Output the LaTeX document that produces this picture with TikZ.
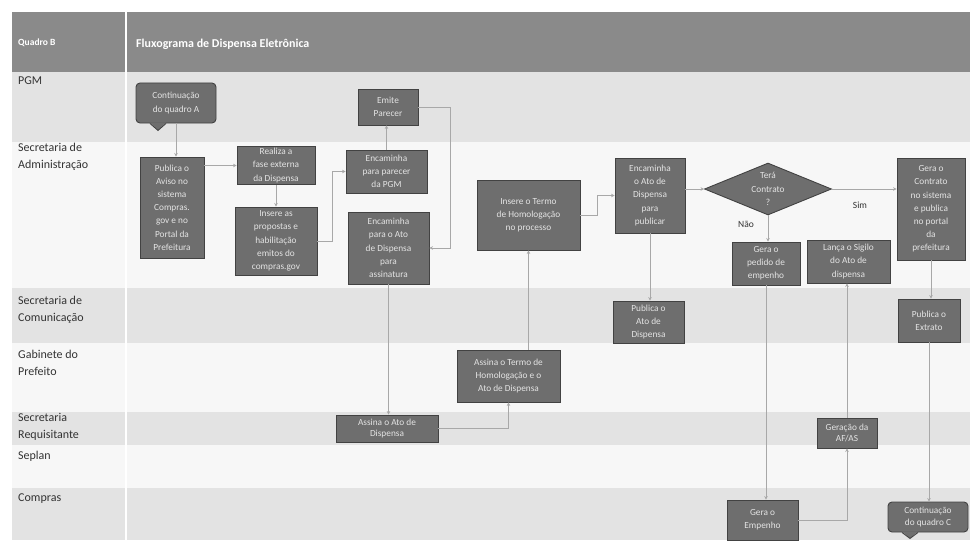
\documentclass[tikz,border=0pt]{standalone}
\usepackage{fontspec}
\setmainfont{Carlito}
\usetikzlibrary{shapes.geometric,arrows.meta,calc}
\definecolor{hdr}{HTML}{8A8A8A}
\definecolor{laneA}{HTML}{E3E3E3}
\definecolor{laneB}{HTML}{F7F7F7}
\definecolor{boxfill}{HTML}{6E6E6E}
\definecolor{boxline}{HTML}{424242}
\definecolor{boxtext}{HTML}{E4E4E4}
\definecolor{conn}{HTML}{A8A8A8}
\definecolor{lbl}{HTML}{333333}
\begin{document}
\begin{tikzpicture}[x=1pt,y=-1pt,
  proc/.style={draw=boxline, fill=boxfill, line width=0.9pt, text=boxtext,
    font=\fontsize{9.3}{13.2}\selectfont, align=center, inner sep=0pt},
  deci/.style={proc, diamond, aspect=2.4},
  lanelbl/.style={anchor=north west, align=left, inner sep=0pt, text=lbl,
    font=\fontsize{12}{17}\selectfont},
  hdrtxt/.style={anchor=west, inner sep=0pt, text=white, font=\bfseries\fontsize{12}{14}\selectfont},
  flow/.style={draw=conn, line width=0.8pt, -{Stealth[length=3.5pt,width=3.5pt]}},
  note/.style={inner sep=0pt, text=lbl, font=\fontsize{9.5}{11}\selectfont}]
\useasboundingbox (0,0) rectangle (970,543);
\fill[white] (0,0) rectangle (970,543);
% header and lanes
\fill[hdr] (12,12) rectangle (970,72);
\fill[laneA] (12,72) rectangle (970,142);
\fill[laneB] (12,142) rectangle (970,288);
\fill[laneA] (12,288) rectangle (970,343);
\fill[laneB] (12,343) rectangle (970,412);
\fill[laneA] (12,412) rectangle (970,445);
\fill[laneB] (12,445) rectangle (970,488);
\fill[laneA] (12,488) rectangle (970,540);
\draw[white, line width=2pt] (126,12) -- (126,540);
% header text
\node[hdrtxt, font=\bfseries\fontsize{9.5}{11}\selectfont] (qb) at (18,43) {Quadro B};
\node[hdrtxt] (title) at (136,44) {Fluxograma de Dispensa Eletrônica};
% lane labels
\node[lanelbl] (lpgm) at (18,77) {PGM};
\node[lanelbl] (ladm) at (18,143) {Secretaria de\\Administração};
\node[lanelbl] (lcom) at (18,296) {Secretaria de\\Comunicação};
\node[lanelbl] (lgab) at (18,350) {Gabinete do\\Prefeito};
\node[lanelbl] (lreq) at (18,413) {Secretaria\\Requisitante};
\node[lanelbl] (lsep) at (18,451) {Seplan};
\node[lanelbl] (lcmp) at (18,494) {Compras};
% process nodes
\node[proc, rounded corners=4pt, minimum width=80pt, minimum height=40pt] (contA) at (176,103) {Continuação\\do quadro A};
\node[proc, minimum width=60pt, minimum height=36pt] (emite) at (388,107) {Emite\\Parecer};
\node[proc, minimum width=64pt, minimum height=101pt] (pubAviso) at (172,207.5) {Publica o\\Aviso no\\sistema\\Compras.\\gov e no\\Portal da\\Prefeitura};
\node[proc, minimum width=78pt, minimum height=38pt] (realiza) at (276,165.5) {Realiza a\\fase externa\\da Dispensa};
\node[proc, minimum width=82pt, minimum height=68pt] (insere) at (276,241) {Insere as\\propostas e\\habilitação\\emitos do\\compras.gov};
\node[proc, minimum width=81pt, minimum height=43pt] (encParecer) at (386.5,171.5) {Encaminha\\para parecer\\da PGM};
\node[proc, minimum width=81pt, minimum height=72pt] (encAto) at (388.5,248) {Encaminha\\para o Ato\\de Dispensa\\para\\assinatura};
\node[proc, minimum width=103pt, minimum height=70pt] (insTermo) at (528.5,215) {Insere o Termo\\de Homologação\\no processo};
\node[proc, minimum width=70pt, minimum height=75pt] (encPub) at (650,195.5) {Encaminha\\o Ato de\\Dispensa\\para\\publicar};
\node[deci, minimum width=127pt, minimum height=52pt] (dia) at (768,189) {Terá\\Contrato\\?};
\node[proc, minimum width=68pt, minimum height=43pt] (pedido) at (766,263.5) {Gera o\\pedido de\\empenho};
\node[proc, minimum width=83pt, minimum height=43pt] (sigilo) at (848.5,261.5) {Lança o Sigilo\\do Ato de\\dispensa};
\node[proc, minimum width=68pt, minimum height=102pt] (contrato) at (931,209) {Gera o\\Contrato\\no sistema\\e publica\\no portal\\da\\prefeitura};
\node[proc, minimum width=71pt, minimum height=42pt] (pubAto) at (648.5,322) {Publica o\\Ato de\\Dispensa};
\node[proc, minimum width=62pt, minimum height=43pt] (extrato) at (929,320.5) {Publica o\\Extrato};
\node[proc, minimum width=103pt, minimum height=52pt] (assTermo) at (508.5,376) {Assina o Termo de\\Homologação e o\\Ato de Dispensa};
\node[proc, minimum width=102pt, minimum height=27pt, font=\fontsize{9.3}{11.5}\selectfont] (assAto) at (387,428.5) {Assina o Ato de\\Dispensa};
\node[proc, minimum width=60pt, minimum height=30pt, font=\fontsize{9.3}{11.5}\selectfont] (geracao) at (847,433) {Geração da\\AF/AS};
\node[proc, minimum width=71pt, minimum height=40pt] (empenho) at (762.5,520) {Gera o\\Empenho};
\node[proc, rounded corners=4pt, minimum width=80pt, minimum height=30pt, font=\fontsize{9.3}{11.8}\selectfont] (contC) at (928,517) {Continuação\\do quadro C};
% callout pointers
\fill[boxfill] ($(contA.south)+(-26,-1)$) -- ($(contA.south)+(-18,7)$) -- ($(contA.south)+(-10,-1)$) -- cycle;
\draw[boxline, line width=0.9pt] ($(contA.south)+(-26,0)$) -- ($(contA.south)+(-18,7)$) -- ($(contA.south)+(-10,0)$);
\fill[boxfill] ($(contC.south)+(-26,-1)$) -- ($(contC.south)+(-18,6)$) -- ($(contC.south)+(-10,-1)$) -- cycle;
\draw[boxline, line width=0.9pt] ($(contC.south)+(-26,0)$) -- ($(contC.south)+(-18,6)$) -- ($(contC.south)+(-10,0)$);
% connectors
\draw[flow] (contA.south) -- (contA.south |- pubAviso.north);
\draw[flow] (realiza.west -| pubAviso.east) -- (realiza.west);
\draw[flow] (realiza.south) -- (insere.north);
\draw[flow] (insere.east) -- ++(15,0) |- (encParecer.west);
\draw[flow] (encParecer.north) -- (encParecer.north |- emite.south);
\draw[flow] (emite.east) -- ++(32,0) |- (encAto.east);
\draw[flow] (encAto.south) -- (encAto.south |- assAto.north);
\draw[flow] (assAto.east) -| (assTermo.south);
\draw[flow] (assTermo.north -| insTermo.south) -- (insTermo.south);
\draw[flow] (insTermo.east) -- ++(17,0) |- (encPub.west);
\draw[flow] (encPub.south) -- (encPub.south |- pubAto.north);
\draw[flow] (encPub.east |- dia.west) -- (dia.west);
\draw[flow] (dia.south) -- (dia.south |- pedido.north);
\draw[flow] (dia.east) -- (dia.east -| contrato.west);
\draw[flow] (pedido.south) -- (pedido.south |- empenho.north);
\draw[flow] (empenho.east) -| (geracao.south);
\draw[flow] (geracao.north) -- (geracao.north |- sigilo.south);
\draw[flow] (contrato.south) -- (contrato.south |- extrato.north);
\draw[flow] (extrato.south) -- (extrato.south |- contC.north);
% branch labels
\node[note] (nao) at (746,224) {Não};
\node[note] (sim) at (860,205) {Sim};
\end{tikzpicture}
\end{document}
